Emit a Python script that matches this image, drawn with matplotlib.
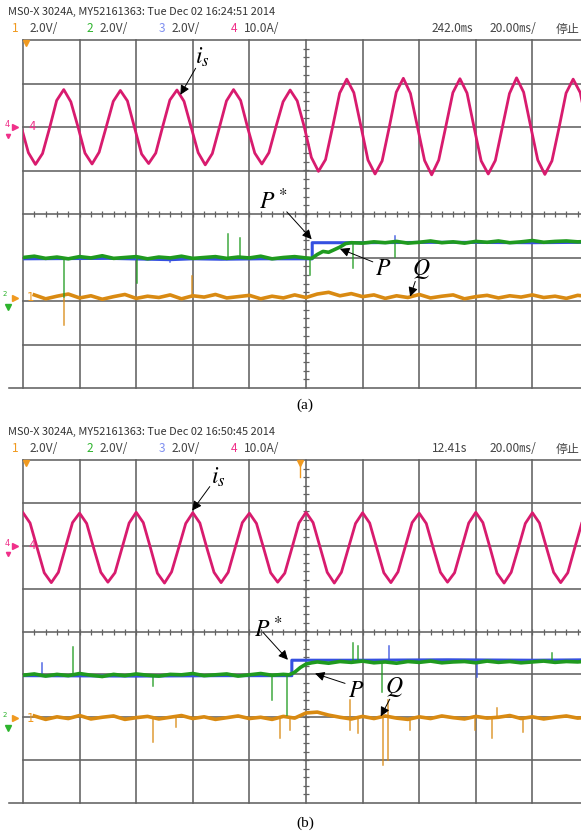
import numpy as np
import matplotlib
matplotlib.use("Agg")
import matplotlib.pyplot as plt

plt.rcParams['mathtext.fontset'] = 'stix'

# ---------------- data (screen divisions: x 0..10, y -4..4) ----------------
dt = 0.125

# panel (a) current i_s, sampled every 1/8 div starting at t=-0.03
is_a = [2.00, 1.41, 1.14, 1.39, 1.98, 2.61, 2.86, 2.58,
        2.01, 1.40, 1.15, 1.42, 2.00, 2.59, 2.84, 2.60,
        1.99, 1.38, 1.16, 1.40, 2.02, 2.62, 2.85, 2.59,
        2.00, 1.41, 1.13, 1.39, 1.99, 2.60, 2.86, 2.61,
        1.98, 1.40, 1.15, 1.41, 2.01, 2.58, 2.85, 2.60,
        2.00, 1.30, 0.98, 1.25, 2.00, 2.78, 3.10, 2.79,
        2.02, 1.24, 0.92, 1.22, 1.99, 2.80, 3.12, 2.77,
        2.00, 1.23, 0.90, 1.24, 2.01, 2.79, 3.11, 2.78,
        1.99, 1.22, 0.92, 1.23, 2.00, 2.77, 3.13, 2.80,
        2.01, 1.24, 0.91, 1.22, 1.98, 2.78, 3.10, 2.79,
        2.00]
is_a_t0 = -0.03

# panel (b) current i_s, sampled every 1/8 div starting at t=0
is_b = [2.77, 2.53, 1.95, 1.37, 1.14, 1.38, 1.96, 2.54,
        2.76, 2.52, 1.94, 1.38, 1.15, 1.37, 1.95, 2.53,
        2.78, 2.54, 1.96, 1.36, 1.13, 1.39, 1.95, 2.52,
        2.77, 2.53, 1.94, 1.38, 1.14, 1.38, 1.96, 2.54,
        2.76, 2.52, 1.95, 1.37, 1.15, 1.36, 1.94, 2.53,
        2.78, 2.54, 1.96, 1.38, 1.13, 1.38, 1.95, 2.52,
        2.77, 2.53, 1.95, 1.37, 1.14, 1.39, 1.96, 2.54,
        2.76, 2.52, 1.94, 1.38, 1.15, 1.37, 1.95, 2.53,
        2.78, 2.54, 1.96, 1.36, 1.13, 1.38, 1.94, 2.52,
        2.77, 2.53, 1.95, 1.38, 1.14, 1.37, 1.96, 2.54,
        2.77]
is_b_t0 = 0.0

# panel (a) P (green)
p_a_t = list(np.round(np.arange(0, 5.01, 0.2), 2)) + [5.1, 5.2, 5.3, 5.4, 5.5, 5.6, 5.7, 5.8] \
    + list(np.round(np.arange(6.0, 10.01, 0.2), 2))
p_a = [-1.00, -0.97, -1.02, -0.99, -1.03, -0.98, -1.01, -0.96, -1.02, -1.00,
       -0.98, -1.03, -0.99, -1.01, -0.97, -1.02, -1.00, -0.98, -1.02, -0.99,
       -1.01, -0.97, -1.03, -1.00, -0.98, -1.01,
       -1.02, -0.93, -0.86, -0.88, -0.82, -0.76, -0.68, -0.66,
       -0.67, -0.64, -0.66, -0.63, -0.67, -0.65, -0.62, -0.66, -0.64, -0.67,
       -0.63, -0.65, -0.62, -0.66, -0.64, -0.61, -0.65, -0.63, -0.62, -0.64, -0.63]
# panel (a) P* (blue)
pref_a_t = [0.0, 1.5, 2.6, 3.0, 3.5, 4.2, 5.11, 5.11, 6.0, 7.5, 9.0, 10.0]
pref_a = [-1.03, -1.02, -1.05, -1.03, -1.04, -1.03, -1.03, -0.66, -0.66, -0.65, -0.66, -0.65]
# panel (a) Q (orange), trace starts right of the "1" marker
q_a_t = list(np.round(np.arange(0.2, 10.01, 0.2), 2))
q_a = [-1.86, -1.95, -1.89, -1.84, -1.93, -1.88, -1.96, -1.90, -1.85,
       -1.94, -1.89, -1.92, -1.86, -1.95, -1.88, -1.91, -1.85, -1.93, -1.90,
       -1.87, -1.95, -1.89, -1.93, -1.86, -1.92,
       -1.84, -1.80, -1.88, -1.83, -1.90, -1.86, -1.94, -1.88, -1.92, -1.85,
       -1.93, -1.89, -1.86, -1.95, -1.90, -1.87, -1.93, -1.88, -1.91, -1.86,
       -1.92, -1.89, -1.94, -1.87, -1.90]

# panel (b) P (green)
p_b_t = list(np.round(np.arange(0, 4.61, 0.2), 2)) + [4.7, 4.8, 4.9, 5.0, 5.1] \
    + list(np.round(np.arange(5.2, 10.01, 0.2), 2))
p_b = [-1.02, -0.99, -1.04, -1.00, -1.03, -0.98, -1.02, -1.05, -1.00, -1.03,
       -0.99, -1.02, -1.04, -1.00, -1.01, -0.98, -1.03, -1.01, -0.99, -1.04,
       -1.01, -0.98, -1.02, -1.00,
       -1.01, -0.95, -0.84, -0.76, -0.73,
       -0.71, -0.74, -0.70, -0.72, -0.69, -0.73, -0.71, -0.74, -0.70, -0.72,
       -0.69, -0.73, -0.71, -0.70, -0.73, -0.69, -0.72, -0.70, -0.73, -0.71,
       -0.69, -0.72, -0.70, -0.71, -0.69]
pref_b_t = [0.0, 2.0, 3.5, 4.75, 4.75, 6.0, 7.5, 9.0, 10.0]
pref_b = [-1.03, -1.04, -1.03, -1.03, -0.67, -0.67, -0.66, -0.67, -0.66]
q_b_t = list(np.round(np.arange(0.2, 10.01, 0.2), 2))
q_b = [-1.97, -2.05, -1.99, -2.03, -1.96, -2.04, -2.00, -1.97, -2.05,
       -2.01, -1.98, -2.04, -2.00, -1.96, -2.03, -1.99, -2.05, -2.01, -1.97,
       -2.03, -2.00, -2.05, -1.98, -2.02,
       -1.90, -1.88, -1.95, -2.00, -2.04, -1.98, -2.03, -1.97, -2.02, -2.05,
       -1.99, -2.03, -1.97, -2.01, -2.04, -1.98, -2.02, -2.00, -1.96, -2.03,
       -1.99, -2.04, -2.00, -1.97, -2.02, -2.00]

# glitch spikes: time, start level, end level
spk_a_green = [(0.73, -1.00, -1.90), (2.01, -1.00, -1.59), (3.62, -1.00, -0.45),
               (3.84, -1.00, -0.55), (5.07, -1.00, -1.40), (5.83, -0.70, -1.24),
               (6.57, -0.66, -0.98)]
spk_a_blue = [(6.57, -0.66, -0.50), (2.6, -1.03, -1.10)]
spk_a_orange = [(0.72, -1.92, -2.55), (2.99, -1.90, -1.42)]

spk_b_green = [(0.88, -1.02, -0.37), (2.30, -1.02, -1.26), (4.40, -1.02, -1.60),
               (4.66, -1.02, -1.95), (5.83, -0.72, -0.26), (5.92, -0.72, -0.33),
               (6.34, -0.72, -1.42), (9.35, -0.72, -0.51)]
spk_b_blue = [(0.34, -1.02, -0.74), (6.47, -0.67, -0.33), (8.02, -0.67, -1.07)]
spk_b_orange = [(2.30, -2.02, -2.58), (2.70, -2.02, -2.23), (4.54, -2.02, -2.49),
                (4.72, -2.02, -2.30), (5.78, -1.60, -2.30), (5.92, -2.02, -2.37),
                (6.36, -2.02, -3.12), (6.45, -1.60, -3.00), (6.84, -2.02, -2.30),
                (7.99, -2.02, -2.30), (8.29, -2.02, -2.49), (8.37, -2.02, -1.79),
                (8.83, -2.02, -2.35)]

header_a = "MS0-X 3024A, MY52161363: Tue Dec 02 16:24:51 2014"
header_b = "MS0-X 3024A, MY52161363: Tue Dec 02 16:50:45 2014"
time_a, time_b = "242.0㎳", "12.41s"

# ---------------- style ----------------
PINK, GREEN, BLUE, ORANGE = "#d81b6e", "#1f9a1f", "#3550e0", "#d98a12"
GRID = "#626262"
W, H = 581, 833
XDIV = 56.6

fig = plt.figure(figsize=(W / 100, H / 100), dpi=100)


def add_px_axes(left, top, right, bottom):
    return fig.add_axes([left / W, 1 - bottom / H, (right - left) / W, (bottom - top) / H])


def header(top_y, line1, tpos):
    fam = ['Liberation Sans Narrow', 'Noto Sans CJK SC', 'DejaVu Sans']
    fig.text(8 / W, 1 - top_y / H, line1, fontsize=7.9, color="#333333", family=fam, va='center')
    y2 = 1 - (top_y + 17) / H
    items = [(12, "1", "#f09a20"), (30, "2.0V/", "#444444"), (87, "2", "#2db42d"),
             (100, "2.0V/", "#444444"), (159, "3", "#7f8ff0"), (172, "2.0V/", "#444444"),
             (231, "4", "#f0308a"), (244, "10.0A/", "#444444"), (432, tpos, "#444444"),
             (490, "20.00㎳/", "#444444"), (556, "停止", "#444444")]
    for x, s, c in items:
        fig.text(x / W, y2, s, fontsize=8.6, color=c, family=fam, va='center')


def draw_panel(ax, is_v, is_t0, p_t, p_v, pr_t, pr_v, q_t, q_v, sg, sb, so, ch1_y):
    ax.set_xlim(0, (W - 23) / XDIV)
    ax.set_ylim(-4, 4)
    ax.axis('off')
    for i in range(0, 11):
        ax.plot([i, i], [-4, 4], color=GRID, lw=1.15, clip_on=False, zorder=1)
    for j in range(-4, 5):
        x0 = -0.25 if j == -4 else 0
        ax.plot([x0, 10], [j, j], color=GRID, lw=1.15, clip_on=False, zorder=1)
    # fine ticks on the centre lines
    tx = np.arange(0.2, 10, 0.2)
    ax.plot(tx, np.zeros_like(tx), ls='none', marker='|', ms=4, mew=0.9, color=GRID, zorder=1)
    ty = np.arange(-3.8, 4, 0.2)
    ax.plot(np.full_like(ty, 5.0), ty, ls='none', marker='_', ms=4, mew=0.9, color=GRID,
            zorder=1, clip_on=False)

    t_is = is_t0 + dt * np.arange(len(is_v))
    ax.plot(t_is, is_v, color=PINK, lw=2.0, zorder=3, solid_joinstyle='round')
    ax.plot(pr_t, pr_v, color=BLUE, lw=2.2, zorder=3)
    ax.plot(p_t, p_v, color=GREEN, lw=2.6, zorder=4)
    ax.plot(q_t, q_v, color=ORANGE, lw=2.6, zorder=3)
    for spikes, c, z in [(sb, BLUE, 3), (sg, GREEN, 4), (so, ORANGE, 3)]:
        for t, a, b in spikes:
            ax.plot([t, t], [a, b], color=c, lw=1.1, zorder=z, alpha=0.85)

    # channel markers on the left
    ax.text(-0.33, 2.05, "4", color="#f0308a", fontsize=6, va='center', clip_on=False)
    ax.plot(-0.15, 2.0, marker='>', color="#f0308a", ms=4, clip_on=False)
    ax.plot(-0.27, 1.8, marker='v', color="#f0308a", ms=3, clip_on=False)
    ax.text(0.1, 2.0, "4", color="#f0308a", fontsize=8.5, va='center', zorder=5)
    ax.text(-0.36, ch1_y + 0.08, "2", color="#2db42d", fontsize=5, va='center', clip_on=False)
    ax.plot(-0.15, ch1_y, marker='>', color="#f09a20", ms=4, clip_on=False)
    ax.plot(-0.27, ch1_y - 0.22, marker='v', color="#2db42d", ms=4, clip_on=False)
    ax.text(0.06, ch1_y, "1", color="#f09a20", fontsize=8.5, va='center', zorder=5)
    ax.plot(0.05, 3.93, marker='v', color="#f09a20", ms=4, clip_on=False)


def label(ax, s, xy_text, xy_from, xy_to):
    ax.text(*xy_text, s, fontsize=17, va='center', ha='center', zorder=6)
    ax.annotate("", xy=xy_to, xytext=xy_from,
                arrowprops=dict(arrowstyle='-|>', color='black', lw=0.7,
                                mutation_scale=14, shrinkA=0, shrinkB=0), zorder=6)


# ---------------- panel (a) ----------------
header(12, header_a, time_a)
ax_a = add_px_axes(23, 40, W, 388)
draw_panel(ax_a, is_a, is_a_t0, p_a_t, p_a, pref_a_t, pref_a, q_a_t, q_a,
           spk_a_green, spk_a_blue, spk_a_orange, -1.92)
label(ax_a, r"$i_s$", (3.17, 3.62), (3.05, 3.35), (2.78, 2.74))
label(ax_a, r"$P^*$", (4.42, 0.30), (4.66, 0.05), (5.10, -0.58))
label(ax_a, r"$P$", (6.36, -1.24), (6.18, -1.10), (5.60, -0.80))
label(ax_a, r"$Q$", (7.03, -1.27), (6.93, -1.55), (6.84, -1.90))
fig.text(305 / W, 1 - 405 / H, "(a)", fontsize=11, family='Liberation Serif',
         ha='center', va='center')

# ---------------- panel (b) ----------------
header(432, header_b, time_b)
ax_b = add_px_axes(23, 460, W, 803)
draw_panel(ax_b, is_b, is_b_t0, p_b_t, p_b, pref_b_t, pref_b, q_b_t, q_b,
           spk_b_green, spk_b_blue, spk_b_orange, -2.02)
ax_b.plot(4.89, 3.92, marker='v', color="#f09a20", ms=4, clip_on=False)
ax_b.plot([4.89, 4.89], [3.92, 3.6], color="#f09a20", lw=1)
label(ax_b, r"$i_s$", (3.45, 3.60), (3.30, 3.38), (2.99, 2.82))
label(ax_b, r"$P^*$", (4.33, 0.05), (4.24, -0.02), (4.68, -0.66))
label(ax_b, r"$P$", (5.88, -1.37), (5.69, -1.21), (5.16, -0.98))
label(ax_b, r"$Q$", (6.56, -1.30), (6.48, -1.58), (6.32, -1.98))
fig.text(305 / W, 1 - 823 / H, "(b)", fontsize=11, family='Liberation Serif',
         ha='center', va='center')

fig.savefig("out.png", dpi=100)
